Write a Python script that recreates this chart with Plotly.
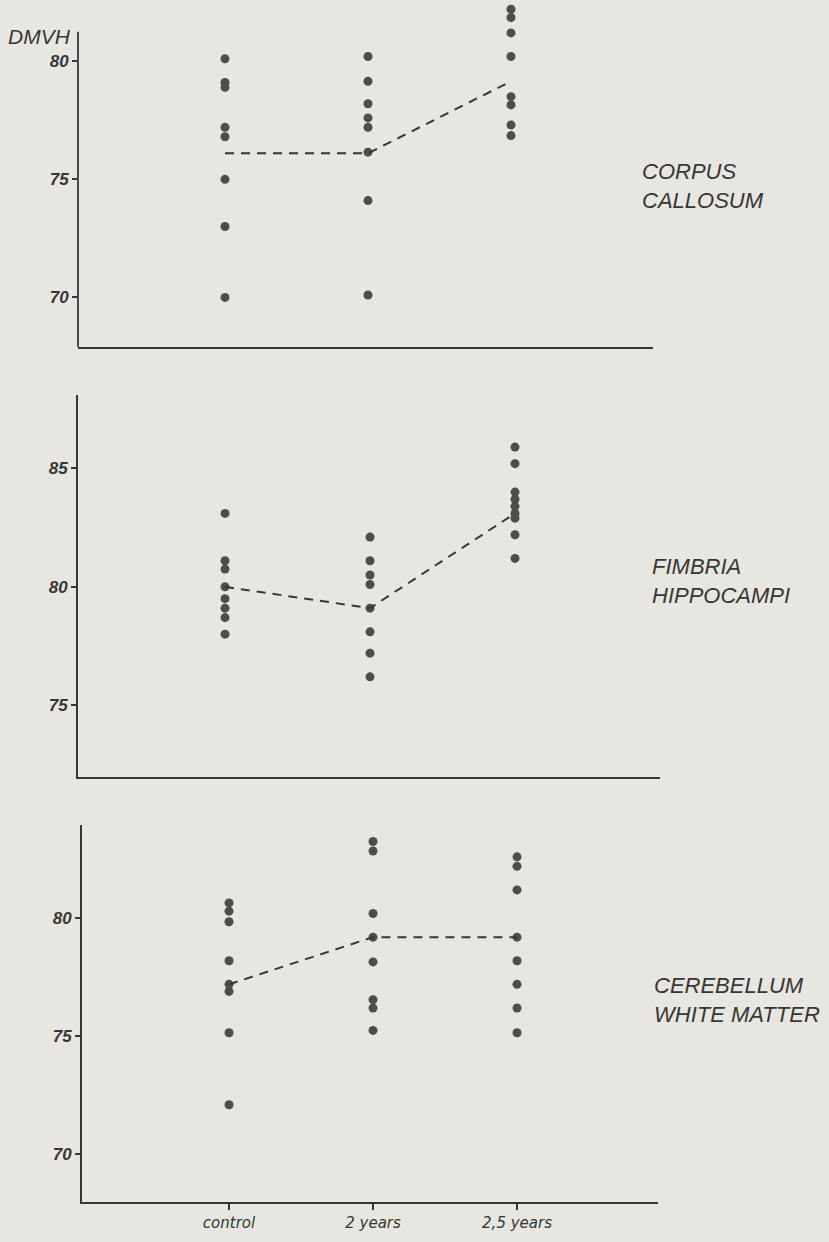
import plotly.graph_objects as go

# ---------------- data ----------------
categories = ["control", "2 years", "2,5 years"]

# Corpus callosum
cc_control = [80.1, 79.1, 78.9, 77.2, 76.8, 75.0, 73.0, 70.0]
cc_2y = [80.2, 79.15, 78.2, 77.6, 77.2, 76.15, 74.1, 70.1]
cc_25y = [82.2, 81.85, 81.2, 80.2, 78.5, 78.15, 77.3, 76.85]
cc_mean = [76.1, 76.1, 79.15]

# Fimbria hippocampi
fh_control = [83.1, 81.1, 80.75, 80.0, 79.5, 79.1, 78.7, 78.0]
fh_2y = [82.1, 81.1, 80.5, 80.1, 79.1, 78.1, 77.2, 76.2]
fh_25y = [85.9, 85.2, 84.0, 83.7, 83.4, 83.1, 82.9, 82.2, 81.2]
fh_mean = [80.0, 79.1, 83.1]

# Cerebellum white matter
cb_control = [80.65, 80.3, 79.85, 78.2, 77.2, 76.9, 75.15, 72.1]
cb_2y = [83.25, 82.85, 80.2, 79.2, 78.15, 76.55, 76.2, 75.25]
cb_25y = [82.6, 82.2, 81.2, 79.2, 78.2, 77.2, 76.2, 75.15]
cb_mean = [77.2, 79.2, 79.2]

panel_labels = ["CORPUS<br>CALLOSUM", "FIMBRIA<br>HIPPOCAMPI", "CEREBELLUM<br>WHITE MATTER"]
y_label = "DMVH"

# ---------------- styling ----------------
W, H = 829, 1242
BG = "#e8e6e0"
INK = "#363636"
DOT = "#4d4d4d"
FONT = "Liberation Sans"
XFONT = "DejaVu Sans"

panels = [
    dict(groups=[cc_control, cc_2y, cc_25y], mean=cc_mean,
         xpx=(78, 653), xr=(-1.028, 2.993), ypx=(1, 347), yr=(67.9, 82.55),
         axis_top=81.25, ticks=[70, 75, 80], label_xy=(640, 186)),
    dict(groups=[fh_control, fh_2y, fh_25y], mean=fh_mean,
         xpx=(78, 660), xr=(-1.014, 3.0), ypx=(395, 777), yr=(71.97, 88.1),
         axis_top=None, ticks=[75, 80, 85], label_xy=(650, 581)),
    dict(groups=[cb_control, cb_2y, cb_25y], mean=cb_mean,
         xpx=(82, 658), xr=(-1.021, 2.979), ypx=(825, 1202), yr=(67.98, 83.95),
         axis_top=None, ticks=[70, 75, 80], label_xy=(652, 1000)),
]

fig = go.Figure()
layout = {}
annotations = []
shapes = []

for i, p in enumerate(panels, start=1):
    xa = "x" if i == 1 else f"x{i}"
    ya = "y" if i == 1 else f"y{i}"
    xs, ys = [], []
    for ci, vals in enumerate(p["groups"]):
        xs += [ci] * len(vals)
        ys += vals
    fig.add_trace(go.Scatter(
        x=xs, y=ys, mode="markers", xaxis=xa, yaxis=ya,
        marker=dict(size=9, color=DOT, line=dict(width=0)),
        cliponaxis=False, showlegend=False, hoverinfo="y"))
    fig.add_trace(go.Scatter(
        x=list(range(len(categories))), y=p["mean"], mode="lines",
        xaxis=xa, yaxis=ya,
        line=dict(color=INK, width=2, dash="9px,7px"),
        cliponaxis=False, showlegend=False, hoverinfo="skip"))

    x0, x1 = p["xpx"]
    y0, y1 = p["ypx"]
    xkey = "xaxis" if i == 1 else f"xaxis{i}"
    ykey = "yaxis" if i == 1 else f"yaxis{i}"
    bottom = (i == 3)
    layout[xkey] = dict(
        domain=[x0 / W, x1 / W], range=list(p["xr"]), anchor=ya,
        showline=True, linecolor=INK, linewidth=1.8, showgrid=False,
        zeroline=False,
        tickmode="array", tickvals=[0, 1, 2] if bottom else [],
        ticktext=categories if bottom else [],
        ticks="outside" if bottom else "", ticklen=6, tickwidth=1.6,
        tickcolor=INK,
        tickfont=dict(family=XFONT, size=15, color=INK, style="italic"),
        fixedrange=True)
    layout[ykey] = dict(
        domain=[1 - y1 / H, 1 - y0 / H], range=list(p["yr"]), anchor=xa,
        showline=p["axis_top"] is None, linecolor=INK, linewidth=1.8,
        showgrid=False, zeroline=False, tickmode="array", tickvals=p["ticks"],
        ticks="outside", ticklen=5, tickwidth=1.6, tickcolor=INK,
        tickfont=dict(family=FONT, size=17, color=INK, style="italic",
                      weight="bold"),
        fixedrange=True)
    if p["axis_top"] is not None:
        shapes.append(dict(
            type="line", xref=f"{xa} domain", yref=ya, x0=0, x1=0,
            y0=p["yr"][0], y1=p["axis_top"],
            line=dict(color=INK, width=1.8)))
    lx, ly = p["label_xy"]
    annotations.append(dict(
        x=lx / W, y=1 - ly / H, xref="paper", yref="paper",
        xanchor="left", yanchor="middle", align="left", showarrow=False,
        text=panel_labels[i - 1],
        font=dict(family=FONT, size=22, color=INK, style="italic")))

annotations.append(dict(
    x=73 / W, y=1 - 36 / H, xref="paper", yref="paper",
    xanchor="right", yanchor="middle", showarrow=False, text=y_label,
    font=dict(family=FONT, size=21, color=INK, style="italic")))

fig.update_layout(
    width=W, height=H, margin=dict(l=0, r=0, t=0, b=0),
    paper_bgcolor=BG, plot_bgcolor=BG, showlegend=False,
    annotations=annotations, shapes=shapes, **layout)

fig.write_html(
    "out.html",
    config={"displayModeBar": False},
    post_script="document.body.style.margin='0';document.body.style.padding='0';"
                "document.documentElement.style.background='" + BG + "';")
